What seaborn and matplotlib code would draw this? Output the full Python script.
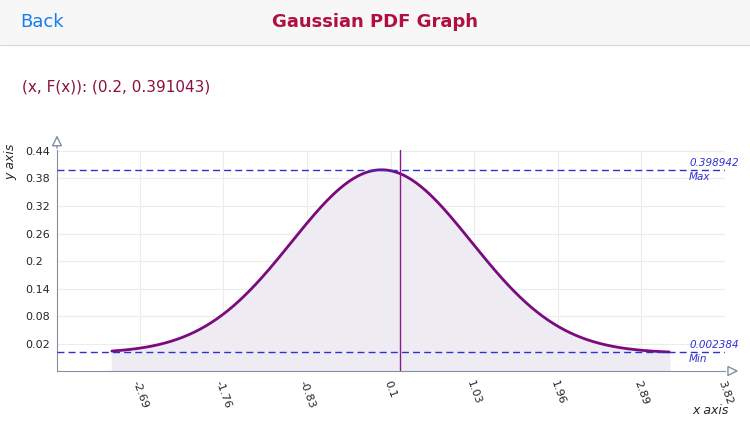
import numpy as np
import matplotlib
matplotlib.use("Agg")
import matplotlib.pyplot as plt
import seaborn as sns
import pandas as pd

sns.set_style("white")
plt.rcParams['font.family'] = ['DejaVu Sans']

x_ticks = [-2.69, -1.76, -0.83, 0.1, 1.03, 1.96, 2.89, 3.82]
x_tick_labels = ["-2.69", "-1.76", "-0.83", "0.1", "1.03", "1.96", "2.89", "3.82"]
y_ticks = [0.02, 0.08, 0.14, 0.2, 0.26, 0.32, 0.38, 0.44]
y_tick_labels = ["0.02", "0.08", "0.14", "0.2", "0.26", "0.32", "0.38", "0.44"]
mu, sigma = 0.0, 1.0
x_min, x_max = -3.0, 3.2
sel_x, sel_y = 0.2, 0.391043
max_val, min_val = 0.398942, 0.002384

xs = np.linspace(x_min, x_max, 400)
df = pd.DataFrame({"x": xs, "y": np.exp(-0.5 * ((xs - mu) / sigma) ** 2) / (sigma * np.sqrt(2 * np.pi))})

fig = plt.figure(figsize=(7.5, 4.22), dpi=100)
fig.patches.append(plt.Rectangle((0, 1 - 45/422), 1, 45/422, transform=fig.transFigure, color="#f7f7f7", zorder=0))
fig.lines.append(plt.Line2D([0, 1], [1 - 45/422]*2, transform=fig.transFigure, color="#d8d8d8", lw=0.8))
fig.text(20/750, 1 - 22/422, "Back", color="#1a7cf0", fontsize=13, va="center")
fig.text(0.5, 1 - 22/422, "Gaussian PDF Graph", color="#b0103f", fontsize=13, fontweight="bold", ha="center", va="center")
fig.text(22/750, 1 - 87/422, f"(x, F(x)): ({sel_x}, {sel_y})", color="#8a1040", fontsize=11, va="center")

ax = fig.add_axes([57/750, 51/422, 668/750, 221/422])
ax.fill_between(df["x"], df["y"], -0.039, color="#efebf3", zorder=1)
sns.lineplot(data=df, x="x", y="y", ax=ax, color="#7a0a7e", lw=2, zorder=3)
ax.axvline(sel_x, color="#8a1a8a", lw=1, zorder=4)
for v, lab in [(max_val, "Max"), (min_val, "Min")]:
    ax.axhline(v, color="#3030d0", lw=1, ls=(0, (5, 3)), zorder=4)
    ax.text(3.82 - 0.4, v + 0.004, f"{v}", color="#3030d0", fontsize=7.5, style="italic", va="bottom")
    ax.text(3.82 - 0.4, v - 0.004, lab, color="#3030d0", fontsize=7.5, style="italic", va="top")

ax.set_xlim(-3.61, 3.82)
ax.set_ylim(-0.039, 0.442)
ax.set_xticks(x_ticks)
ax.set_xticklabels(x_tick_labels, rotation=-70, fontsize=8, ha="center")
ax.set_yticks(y_ticks)
ax.set_yticklabels(y_tick_labels, fontsize=8, ha="left")
ax.tick_params(axis="y", pad=23, length=0)
ax.tick_params(axis="x", length=0, pad=6)
ax.grid(True, color="#ececec", lw=0.8)
for s in ["top", "right"]:
    ax.spines[s].set_visible(False)
for s in ["left", "bottom"]:
    ax.spines[s].set_color("#8090a0")
ax.set_xlabel("")
ax.set_ylabel("")
ax.annotate("", xy=(-3.61, 0.48), xytext=(-3.61, 0.44), xycoords="data",
            arrowprops=dict(arrowstyle="-|>", color="#8090a0", fc="white", lw=1, mutation_scale=16), annotation_clip=False)
ax.annotate("", xy=(4.0, -0.039), xytext=(3.82, -0.039), xycoords="data",
            arrowprops=dict(arrowstyle="-|>", color="#8090a0", fc="white", lw=1, mutation_scale=16), annotation_clip=False)
fig.text(692/750, 1 - 410/422, "x axis", fontsize=9, style="italic", va="center")
fig.text(11/750, 1 - 162/422, "y axis", fontsize=9, style="italic", rotation=90, ha="center", va="center")

fig.savefig("out.png", dpi=100, facecolor="white")
